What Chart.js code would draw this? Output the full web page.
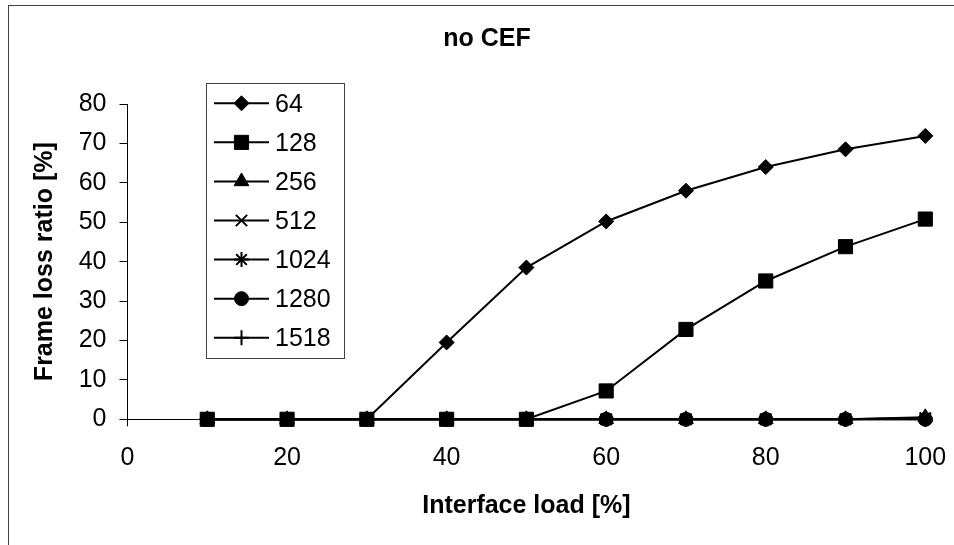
<!DOCTYPE html>
<html>
<head>
<meta charset="utf-8">
<script src="https://cdn.jsdelivr.net/npm/chart.js@4"></script>
<style>
  html, body { margin: 0; padding: 0; background: #fff; overflow: hidden; }
  #wrap { position: relative; width: 954px; height: 545px; overflow: hidden; }
  #frame { position: absolute; left: 8px; top: 5px; width: 1100px; height: 700px; border: 1px solid #404040; box-sizing: border-box; }
  canvas { position: absolute; left: 0; top: 0; }
</style>
</head>
<body>
<div id="wrap">
  <div id="frame"></div>
  <canvas id="lossChart" width="974" height="545"></canvas>
</div>
<script>
var loads = [10, 20, 30, 40, 50, 60, 70, 80, 90, 100];
var frameSizes = ["64", "128", "256", "512", "1024", "1280", "1518"];
var loss64 = [0, 0, 0, 19.5, 38.5, 50.2, 58.0, 64.0, 68.5, 71.9];
var loss128 = [0, 0, 0, 0, 0, 7.2, 22.8, 35.1, 43.8, 50.8];
var loss256 = [0, 0, 0, 0, 0, 0, 0, 0, 0, 0.5];
var loss512 = [0, 0, 0, 0, 0, 0, 0, 0, 0, 0.3];
var loss1024 = [0, 0, 0, 0, 0, 0, 0, 0, 0, 0.2];
var loss1280 = [0, 0, 0, 0, 0, 0, 0, 0, 0, 0];
var loss1518 = [0, 0, 0, 0, 0, 0, 0, 0, 0, 0];
var allLoss = [loss64, loss128, loss256, loss512, loss1024, loss1280, loss1518];

// marker look per series (Excel defaults)
var markers = ["rectRot", "rect", "triangle", "crossRot", "star", "circle", "cross"];
var markerRadius = [7.5, 10, 8.5, 8, 7.5, 7, 7.5];
var markerBorder = [1, 1, 1, 2, 2, 1, 2];

var font = '"Liberation Sans", Arial, sans-serif';

var datasets = frameSizes.map(function (name, i) {
  return {
    label: name,
    data: loads.map(function (x, j) { return {x: x, y: allLoss[i][j]}; }),
    borderColor: "#000",
    backgroundColor: "#000",
    borderWidth: 2,
    pointStyle: markers[i],
    pointRadius: markerRadius[i],
    pointBorderWidth: markerBorder[i],
    pointBackgroundColor: "#000",
    pointBorderColor: "#000",
    clip: false,
    order: -i
  };
});

// Excel-style legend box inside the plot
var boxLegend = {
  id: "boxLegend",
  afterDraw: function (chart) {
    var ctx = chart.ctx;
    ctx.save();
    ctx.fillStyle = "#fff";
    ctx.fillRect(206, 83, 138, 275);
    ctx.strokeStyle = "#404040";
    ctx.lineWidth = 1;
    ctx.strokeRect(206.5, 83.5, 138, 275);
    ctx.font = "25px " + font;
    ctx.textBaseline = "middle";
    ctx.textAlign = "left";
    chart.data.datasets.forEach(function (ds, i) {
      var y = 103.3 + i * 39.07;
      ctx.strokeStyle = "#000";
      ctx.lineWidth = 2;
      ctx.beginPath();
      ctx.moveTo(214, y);
      ctx.lineTo(269, y);
      ctx.stroke();
      ctx.fillStyle = "#000";
      ctx.lineWidth = ds.pointBorderWidth;
      Chart.helpers.drawPoint(ctx, {pointStyle: ds.pointStyle, radius: ds.pointRadius, borderWidth: ds.pointBorderWidth, rotation: 0}, 241.5, y);
      ctx.fillStyle = "#000";
      ctx.fillText(ds.label, 275, y + 1.5);
    });
    ctx.restore();
  }
};

new Chart("lossChart", {
  type: "line",
  data: {datasets: datasets},
  options: {
    responsive: false,
    animation: false,
    layout: {padding: 0},
    plugins: {
      legend: {display: false},
      tooltip: {enabled: false},
      title: {
        display: true,
        text: "no CEF",
        color: "#000",
        font: {family: font, size: 25, weight: "bold"},
        padding: {top: 24, bottom: 50}
      }
    },
    scales: {
      x: {
        type: "linear",
        min: 0,
        max: 100,
        ticks: {stepSize: 20, color: "#000", font: {family: font, size: 25}, padding: 17, maxRotation: 0},
        grid: {drawOnChartArea: false, drawTicks: true, tickLength: 7, color: "#000"},
        border: {display: true, color: "#000", width: 1},
        title: {display: true, text: "Interface load [%]", color: "#000", font: {family: font, size: 25, weight: "bold"}, padding: {top: 0, bottom: 24}},
        afterFit: function (scale) { scale.height = 125.7; }
      },
      y: {
        min: 0,
        max: 80,
        ticks: {stepSize: 10, color: "#000", font: {family: font, size: 25}, padding: 13},
        grid: {drawOnChartArea: false, drawTicks: true, tickLength: 8, color: "#000"},
        border: {display: true, color: "#000", width: 1},
        title: {display: true, text: "Frame loss ratio [%]", color: "#000", font: {family: font, size: 25, weight: "bold"}, padding: {top: 30, bottom: 0}},
        afterFit: function (scale) { scale.width = 127.5; }
      },
      // empty right-hand spacer so the title centres over the whole frame
      yRight: {
        position: "right",
        min: 0,
        max: 80,
        ticks: {display: false},
        grid: {display: false},
        border: {display: false},
        afterFit: function (scale) { scale.width = 48.7; }
      }
    }
  },
  plugins: [boxLegend]
});
</script>
</body>
</html>
